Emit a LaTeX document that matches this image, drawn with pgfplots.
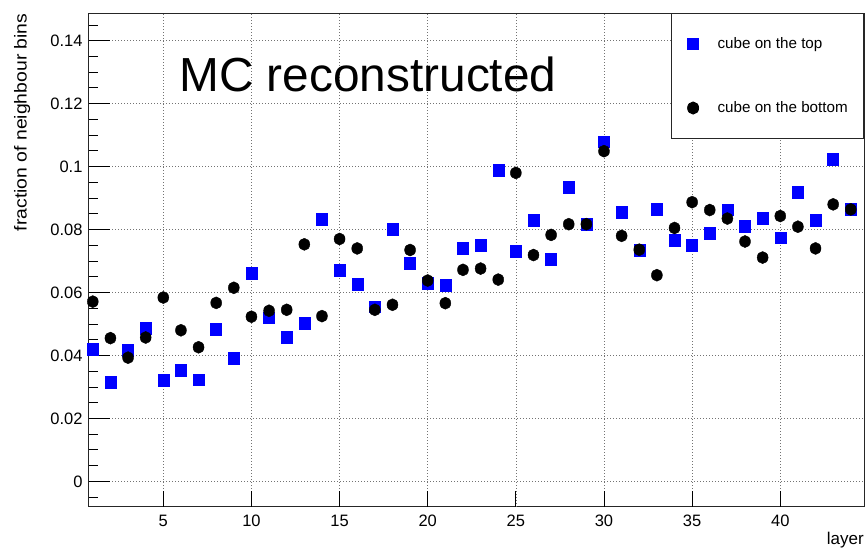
\documentclass[border=0pt]{standalone}
\usepackage{fontspec}
\setmainfont{Liberation Sans}
\newfontfamily\widesans[FakeStretch=1.12]{Liberation Sans}
\usepackage{pgfplots}
\usepackage{pgfplotstable}
\pgfplotsset{compat=1.18}

\pgfplotstableread{
L top bottom
1 0.0421 0.0571
2 0.0316 0.0455
3 0.0418 0.0393
4 0.0487 0.0457
5 0.0322 0.0584
6 0.0353 0.0480
7 0.0323 0.0426
8 0.0484 0.0567
9 0.0391 0.0615
10 0.0660 0.0523
11 0.0520 0.0542
12 0.0457 0.0545
13 0.0502 0.0753
14 0.0834 0.0525
15 0.0671 0.0770
16 0.0626 0.0740
17 0.0555 0.0545
18 0.0802 0.0561
19 0.0694 0.0735
20 0.0630 0.0638
21 0.0622 0.0566
22 0.0741 0.0672
23 0.0751 0.0676
24 0.0989 0.0641
25 0.0730 0.0980
26 0.0831 0.0719
27 0.0707 0.0783
28 0.0935 0.0817
29 0.0816 0.0817
30 0.1079 0.1049
31 0.0854 0.0780
32 0.0735 0.0736
33 0.0865 0.0655
34 0.0766 0.0805
35 0.0749 0.0887
36 0.0787 0.0862
37 0.0863 0.0835
38 0.0810 0.0762
39 0.0836 0.0711
40 0.0774 0.0843
41 0.0919 0.0809
42 0.0829 0.0740
43 0.1023 0.0880
44 0.0865 0.0864
}\datatable

\begin{document}
\begin{tikzpicture}
\begin{axis}[
  scale only axis, width=775.7bp, height=493.4bp,
  at={(0,0)}, anchor=south west,
  xmin=0.745, xmax=44.75, ymin=-0.00805, ymax=0.1487,
  axis line style={black!85, line width=0.9bp},
  /pgf/number format/assume math mode=true,
  xtick=\empty,
  extra x ticks={5,10,15,20,25,30,35,40},
  extra x tick style={major tick length=16bp, grid=major},
  minor xtick={1,...,44},
  ytick={0,0.02,0.04,0.06,0.08,0.1,0.12,0.14},
  yticklabels={0,0.02,0.04,0.06,0.08,0.1,0.12,0.14},
  minor ytick={-0.005,0.005,0.01,0.015,0.025,0.03,0.035,0.045,0.05,0.055,0.065,0.07,0.075,0.085,0.09,0.095,0.105,0.11,0.115,0.125,0.13,0.135,0.145},
  major tick length=22bp, minor tick length=10bp,
  tick align=inside, xtick pos=bottom, ytick pos=left,
  tick style={black, line width=0.8bp},
  ymajorgrids,
  major grid style={black!55, line width=0.7bp, dash pattern=on 1bp off 2bp},
  tick label style={font=\fontsize{16.5bp}{18bp}\selectfont},
  yticklabel style={anchor=east, inner sep=0pt, xshift=-5.6bp},
  xticklabel style={anchor=north, inner sep=0pt, yshift=-8.3bp},
  xlabel={layer},
  xlabel style={at={(axis description cs:1,-0.0756)}, anchor=base east, inner sep=0pt, font=\fontsize{17bp}{19bp}\selectfont},
  ylabel={fraction of neighbour bins},
  ylabel style={at={(axis description cs:-0.0794,1)}, anchor=base east, inner sep=0pt, font=\widesans\fontsize{17.3bp}{19bp}\selectfont},
  legend style={at={(1,1)}, anchor=north east, draw=black!85, line width=0.9bp, fill=white,
    inner xsep=15.8bp, inner ysep=24bp, row sep=51.5bp, column sep=19bp,
    font=\fontsize{15.2bp}{17bp}\selectfont, nodes={inner sep=0pt}},
  legend cell align=left,
]
\addplot[only marks, mark=square*, mark size=5.5bp, color=blue, mark options={yscale=1.08}] table[x=L, y=top] {\datatable};
\addlegendentry{cube on the top}
\addplot[only marks, mark=*, mark size=5.5bp, color=black, mark options={yscale=1.1}] table[x=L, y=bottom] {\datatable};
\addlegendentry{cube on the bottom}
\node[anchor=base west, inner sep=0pt, font=\fontsize{47.8bp}{50bp}\selectfont] at (rel axis cs:0.1170,0.8411) {MC reconstructed};
\end{axis}
\pgfresetboundingbox
\useasboundingbox (-88.3bp,-42.3bp) rectangle (777.7bp,506.7bp);
\end{tikzpicture}
\end{document}
